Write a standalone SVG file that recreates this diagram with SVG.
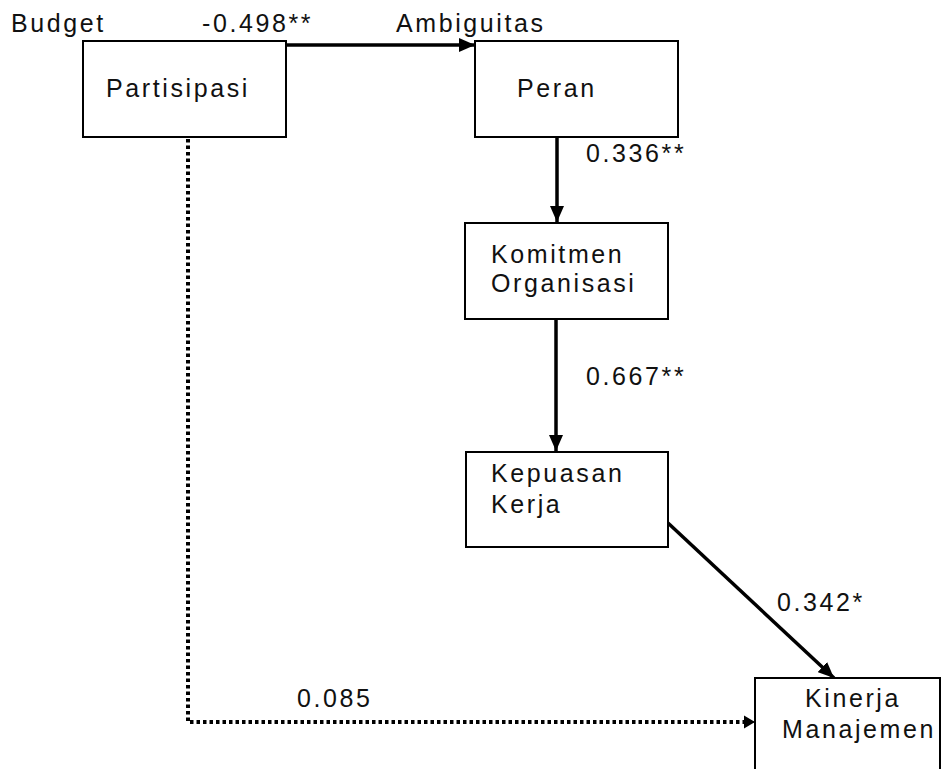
<svg xmlns="http://www.w3.org/2000/svg" width="945" height="769" viewBox="0 0 945 769">
<style>
.box{fill:#fff;stroke:#000;stroke-width:2}
.t{font-family:"Liberation Sans",Arial,sans-serif;font-size:25px;letter-spacing:2.6px;fill:#111}
.solid{fill:none;stroke:#000;stroke-width:3.5}
.dot{fill:none;stroke:#000;stroke-width:4;stroke-dasharray:3.5 3}
</style>
<defs>
<marker id="ah" markerUnits="userSpaceOnUse" markerWidth="18" markerHeight="14" refX="16" refY="7" orient="auto">
<path d="M0,0 L16,7 L0,14 Z" fill="#000"/>
</marker>
<marker id="ahs" markerUnits="userSpaceOnUse" markerWidth="12" markerHeight="14" refX="11" refY="7" orient="auto">
<path d="M0,0.5 L11,7 L0,13.5 Z" fill="#000"/>
</marker>
</defs>
<rect width="945" height="769" fill="#fff"/>
<g id="connectors">
<line class="solid" x1="286" y1="45" x2="475" y2="45" marker-end="url(#ah)"/>
<line class="solid" x1="557" y1="137" x2="557" y2="222" marker-end="url(#ah)"/>
<line class="solid" x1="556" y1="319" x2="556" y2="451" marker-end="url(#ah)"/>
<line class="solid" x1="668" y1="523" x2="834" y2="678" marker-end="url(#ah)"/>
<polyline class="dot" points="188,139 188,722 744,722"/>
<line x1="743" y1="722" x2="755" y2="722" stroke="#000" stroke-width="1" marker-end="url(#ahs)"/>
</g>
<g id="labels">
<text class="t" x="11" y="32">Budget</text>
<text class="t" x="202" y="32">-0.498**</text>
<text class="t" x="396" y="32">Ambiguitas</text>
<text class="t" x="586" y="162">0.336**</text>
<text class="t" x="586" y="385">0.667**</text>
<text class="t" x="777" y="611">0.342*</text>
<text class="t" x="297" y="707">0.085</text>
</g>
<g id="partisipasi">
<rect class="box" x="83" y="41" width="203" height="96"/>
<text class="t" x="106" y="97">Partisipasi</text>
</g>
<g id="peran">
<rect class="box" x="475" y="41" width="203" height="96"/>
<text class="t" x="517" y="97">Peran</text>
</g>
<g id="komitmen">
<rect class="box" x="465" y="223" width="203" height="96"/>
<text class="t" x="491" y="263">Komitmen</text>
<text class="t" x="491" y="292">Organisasi</text>
</g>
<g id="kepuasan">
<rect class="box" x="466" y="452" width="202" height="95"/>
<text class="t" x="491" y="482">Kepuasan</text>
<text class="t" x="491" y="513">Kerja</text>
</g>
<g id="kinerja">
<rect class="box" x="755" y="678" width="185" height="100"/>
<text class="t" x="805" y="707">Kinerja</text>
<text class="t" x="782" y="738">Manajemen</text>
</g>
</svg>
